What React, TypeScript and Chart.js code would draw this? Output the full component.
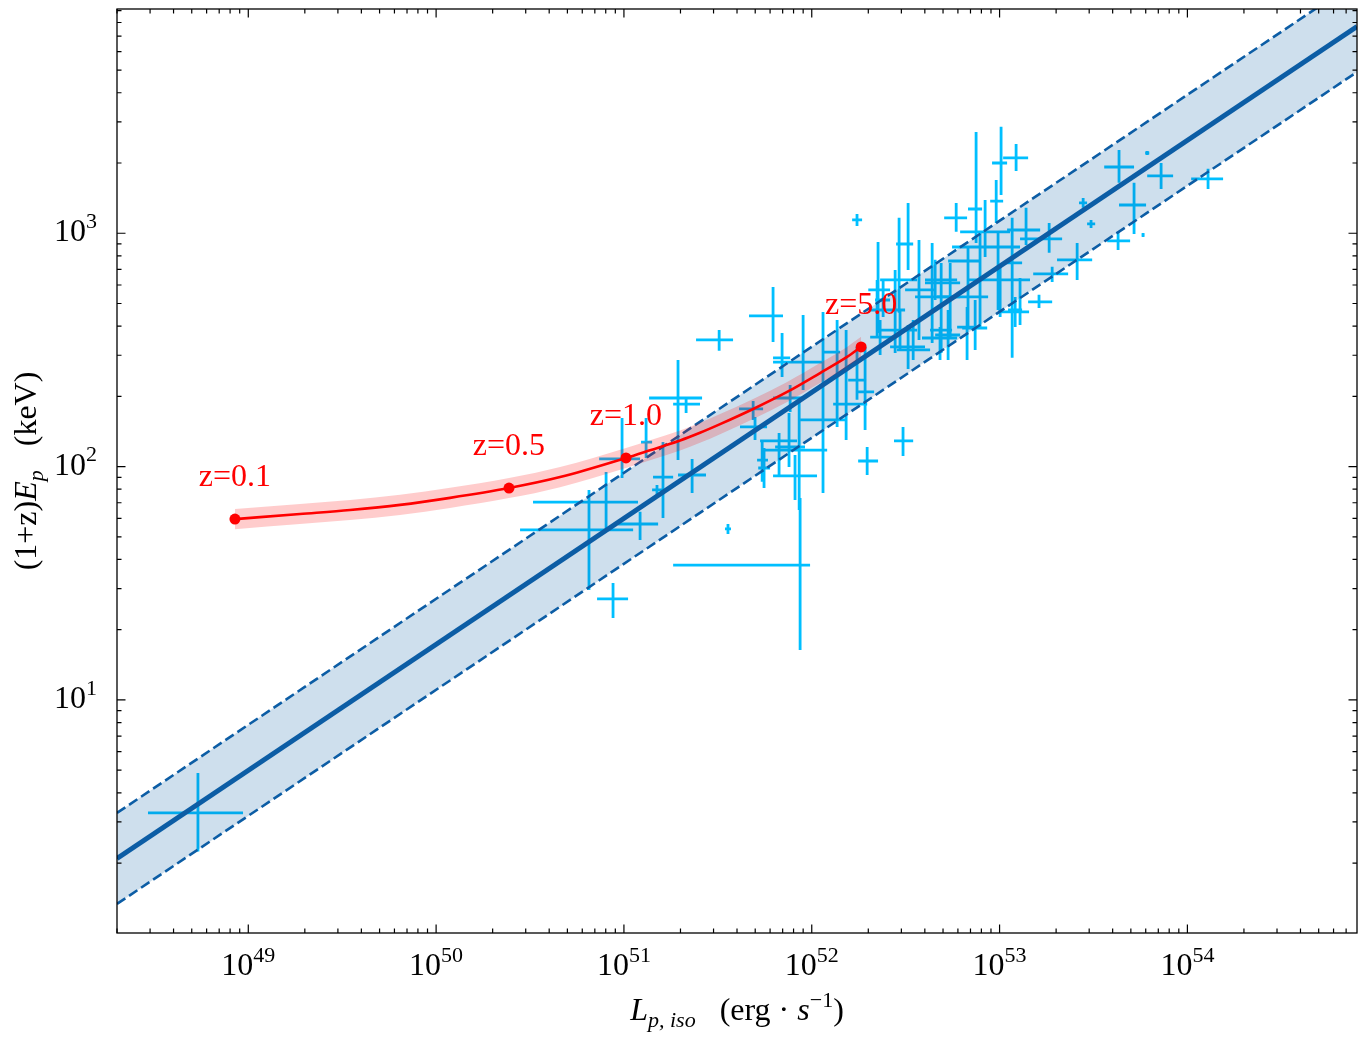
import React, { useEffect, useRef } from "react";
import { Chart, registerables } from "chart.js";

Chart.register(...registerables);

// ---------- data (log10 values) ----------
// x: log10 L_p,iso [erg s^-1]  (centre, lower edge, upper edge of error bar)
const logLp = [48.732, 50.905, 50.814, 51.086, 50.942, 51.208, 51.176, 51.363, 50.990, 51.118, 51.288, 51.331, 51.507, 51.794, 51.842, 51.688, 51.698, 51.554, 51.938, 51.826, 51.933, 51.879, 51.911, 51.736, 51.746, 52.060, 51.885, 51.954, 52.135, 52.183, 52.241, 52.284, 52.295, 52.486, 52.241, 52.348, 52.380, 52.513, 52.465, 52.571, 52.641, 52.737, 52.769, 52.875, 52.689, 52.832, 52.896, 52.923, 52.992, 53.003, 52.982, 53.008, 53.088, 53.067, 53.141, 53.264, 53.413, 53.280, 53.210, 53.109, 53.083, 53.631, 53.636, 53.716, 53.860, 54.110, 53.786, 53.445, 53.487, 53.764, 52.470, 52.513, 52.726, 52.870, 52.657, 52.353, 52.444, 52.364, 52.540, 52.683, 52.827];
const logLpLo = [48.466, 50.516, 50.447, 50.969, 50.857, 51.155, 51.150, 51.288, 50.868, 51.091, 51.134, 51.262, 51.384, 51.666, 51.794, 51.613, 51.618, 51.538, 51.262, 51.725, 51.741, 51.805, 51.794, 51.709, 51.715, 51.938, 51.794, 51.794, 52.060, 52.114, 52.194, 52.236, 52.247, 52.438, 52.215, 52.311, 52.337, 52.449, 52.364, 52.497, 52.550, 52.603, 52.705, 52.832, 52.630, 52.726, 52.667, 52.790, 52.747, 52.832, 52.950, 52.960, 53.019, 53.024, 53.040, 53.109, 53.306, 53.179, 53.152, 52.992, 53.045, 53.573, 53.557, 53.636, 53.786, 54.020, 53.775, 53.423, 53.466, 53.756, 52.364, 52.417, 52.657, 52.801, 52.603, 52.301, 52.390, 52.311, 52.454, 52.587, 52.774];
const logLpHi = [48.972, 51.075, 51.049, 51.182, 51.022, 51.262, 51.208, 51.437, 51.086, 51.150, 51.416, 51.405, 51.581, 51.847, 51.885, 51.741, 51.762, 51.570, 51.991, 51.922, 52.082, 51.964, 52.028, 51.767, 51.778, 52.178, 51.954, 52.060, 52.151, 52.295, 52.289, 52.332, 52.353, 52.540, 52.268, 52.385, 52.417, 52.540, 52.561, 52.657, 52.790, 52.790, 52.827, 52.907, 52.747, 52.896, 52.939, 53.056, 53.109, 53.162, 53.019, 53.040, 53.152, 53.120, 53.216, 53.333, 53.493, 53.365, 53.280, 53.157, 53.120, 53.695, 53.716, 53.780, 53.924, 54.190, 53.797, 53.466, 53.509, 53.772, 52.561, 52.603, 52.790, 52.934, 52.774, 52.417, 52.497, 52.444, 52.630, 52.774, 52.880];
// y: log10 (1+z)E_p [keV]
const logEp = [0.516, 1.848, 1.729, 1.754, 1.433, 1.955, 1.900, 1.964, 2.033, 2.105, 2.294, 2.268, 2.543, 2.646, 2.466, 2.247, 2.170, 1.733, 1.578, 2.110, 2.071, 2.084, 1.960, 2.028, 1.994, 2.200, 2.294, 2.448, 2.491, 2.268, 2.371, 2.320, 2.024, 2.110, 3.057, 2.671, 2.714, 2.954, 2.800, 2.757, 2.727, 2.787, 3.066, 3.104, 2.585, 2.881, 2.727, 3.006, 2.941, 2.800, 3.138, 3.301, 3.323, 2.873, 3.014, 2.976, 2.886, 2.826, 2.706, 2.663, 2.671, 2.967, 3.284, 3.121, 3.246, 3.233, 3.344, 3.130, 3.040, 2.993, 2.585, 2.513, 2.564, 2.594, 2.800, 2.757, 2.671, 2.555, 2.500, 2.551, 2.598];
const logEpLo = [0.351, 1.737, 1.471, 1.685, 1.351, 1.780, 1.878, 1.887, 1.951, 2.037, 2.028, 2.230, 2.496, 2.534, 2.384, 2.200, 2.114, 1.711, 1.214, 1.955, 1.814, 1.998, 1.857, 1.935, 1.908, 1.887, 2.234, 2.328, 2.170, 2.114, 2.286, 2.157, 1.964, 2.045, 3.031, 2.555, 2.641, 2.843, 2.659, 2.543, 2.530, 2.555, 3.006, 2.958, 2.487, 2.598, 2.598, 2.898, 2.671, 2.641, 3.044, 3.164, 3.267, 2.466, 2.950, 2.916, 2.800, 2.791, 2.680, 2.607, 2.598, 2.928, 3.216, 2.997, 3.190, 3.190, 3.335, 3.109, 3.023, 2.984, 2.500, 2.418, 2.457, 2.500, 2.714, 2.573, 2.487, 2.478, 2.457, 2.457, 2.457];
const logEpHi = [0.687, 1.977, 1.900, 1.806, 1.501, 2.105, 1.921, 2.033, 2.208, 2.208, 2.457, 2.298, 2.585, 2.770, 2.573, 2.281, 2.213, 1.754, 1.865, 2.144, 2.286, 2.230, 2.050, 2.114, 2.080, 2.663, 2.350, 2.650, 2.628, 2.585, 2.513, 2.513, 2.084, 2.170, 3.083, 2.800, 2.800, 3.130, 3.066, 2.971, 2.958, 2.873, 3.130, 3.434, 2.873, 2.941, 3.001, 3.143, 3.001, 2.856, 3.228, 3.456, 3.383, 3.066, 3.109, 3.044, 2.958, 2.856, 2.736, 2.808, 2.727, 3.006, 3.357, 3.216, 3.301, 3.276, 3.353, 3.151, 3.057, 3.001, 2.671, 2.607, 2.671, 2.714, 2.886, 2.963, 2.843, 2.628, 2.628, 2.598, 2.684];

// best-fit relation and its band (line end points, log10)
const fitLogL = [48.301, 54.903];
const fitLogE = [0.321, 3.886];
const fitUpperLogE = [0.516, 4.081];
const fitLowerLogE = [0.126, 3.691];

// red track with shaded band (log10)
const trackLogL = [48.929, 49.275, 49.542, 49.808, 50.074, 50.388, 50.660, 51.011, 51.139, 51.299, 51.405, 51.512, 51.688, 51.869, 52.044, 52.188, 52.263];
const trackLogE = [1.775, 1.797, 1.814, 1.836, 1.866, 1.908, 1.955, 2.037, 2.070, 2.112, 2.145, 2.182, 2.247, 2.320, 2.401, 2.470, 2.513];
const trackHiLogE = [1.818, 1.840, 1.857, 1.879, 1.909, 1.951, 1.998, 2.080, 2.113, 2.155, 2.188, 2.225, 2.290, 2.363, 2.444, 2.513, 2.556];
const trackLoLogE = [1.732, 1.754, 1.771, 1.793, 1.823, 1.865, 1.912, 1.994, 2.027, 2.069, 2.102, 2.139, 2.204, 2.277, 2.358, 2.427, 2.470];

// redshift markers
const zLabels = ["z=0.1", "z=0.5", "z=1.0", "z=5.0"];
const zLogL = [48.929, 50.388, 51.011, 52.263];
const zLogE = [1.775, 1.908, 2.037, 2.513];

// axes
const xTickExps = [49, 50, 51, 52, 53, 54];
const yTickExps = [1, 2, 3];
const xLimLog = [48.301, 54.903];
const yLimLog = [0.0013, 3.961];

// ---------- drawing helpers ----------
const FONT = "'Liberation Serif', 'Times New Roman', serif";
const F = 32;

type Seg = { t: string; s: number; it?: boolean; dy?: number };

function fontOf(seg: Seg) {
  return `${seg.it ? "italic " : ""}${seg.s}px ${FONT}`;
}

function drawRich(ctx: CanvasRenderingContext2D, segs: Seg[], x: number, y: number, align: "left" | "center" | "right") {
  let total = 0;
  const widths = segs.map((s) => {
    ctx.font = fontOf(s);
    const w = ctx.measureText(s.t).width;
    total += w;
    return w;
  });
  let cx = align === "left" ? x : align === "center" ? x - total / 2 : x - total;
  ctx.textAlign = "left";
  ctx.textBaseline = "alphabetic";
  segs.forEach((s, i) => {
    ctx.font = fontOf(s);
    ctx.fillText(s.t, cx, y + (s.dy || 0));
    cx += widths[i];
  });
}

function pow10Segs(e: number): Seg[] {
  return [
    { t: "10", s: F },
    { t: String(e), s: Math.round(F * 0.7), dy: -F * 0.42 },
  ];
}

const p = (v: number) => Math.pow(10, v);

const decor = {
  id: "decor",
  beforeDatasetsDraw(chart: any) {
    const { ctx, chartArea: a } = chart;
    const xs = chart.scales.x;
    const ys = chart.scales.y;
    ctx.save();
    ctx.beginPath();
    ctx.rect(a.left, a.top, a.right - a.left, a.bottom - a.top);
    ctx.clip();
    ctx.strokeStyle = "#00BFFF";
    ctx.lineWidth = 2.8;
    ctx.lineCap = "butt";
    for (let i = 0; i < logLp.length; i++) {
      const px = xs.getPixelForValue(p(logLp[i]));
      const py = ys.getPixelForValue(p(logEp[i]));
      ctx.beginPath();
      ctx.moveTo(xs.getPixelForValue(p(logLpLo[i])), py);
      ctx.lineTo(xs.getPixelForValue(p(logLpHi[i])), py);
      ctx.moveTo(px, ys.getPixelForValue(p(logEpHi[i])));
      ctx.lineTo(px, ys.getPixelForValue(p(logEpLo[i])));
      ctx.stroke();
    }
    ctx.restore();
  },
  afterDraw(chart: any) {
    const { ctx, chartArea: a } = chart;
    const xs = chart.scales.x;
    const ys = chart.scales.y;
    ctx.save();

    // redshift labels
    ctx.fillStyle = "#FF0000";
    zLabels.forEach((lab, i) => {
      const px = xs.getPixelForValue(p(zLogL[i]));
      const py = ys.getPixelForValue(p(zLogE[i]));
      drawRich(ctx, [{ t: lab, s: 32 }], px, py - 33, "center");
    });

    // frame
    ctx.strokeStyle = "#000";
    ctx.lineWidth = 1.3;
    ctx.strokeRect(a.left, a.top, a.right - a.left, a.bottom - a.top);

    // ticks (inward, all four sides)
    ctx.lineWidth = 1.2;
    const MAJ = 8.5;
    const MIN = 4.5;
    ctx.beginPath();
    for (let d = Math.floor(xLimLog[0]); d <= Math.ceil(xLimLog[1]); d++) {
      for (let m = 1; m <= 9; m++) {
        const lv = d + Math.log10(m);
        if (lv < xLimLog[0] || lv > xLimLog[1]) continue;
        const px = xs.getPixelForValue(p(lv));
        const len = m === 1 ? MAJ : MIN;
        ctx.moveTo(px, a.bottom);
        ctx.lineTo(px, a.bottom - len);
        ctx.moveTo(px, a.top);
        ctx.lineTo(px, a.top + len);
      }
    }
    for (let d = Math.floor(yLimLog[0]); d <= Math.ceil(yLimLog[1]); d++) {
      for (let m = 1; m <= 9; m++) {
        const lv = d + Math.log10(m);
        if (lv < yLimLog[0] || lv > yLimLog[1]) continue;
        const py = ys.getPixelForValue(p(lv));
        const len = m === 1 ? MAJ : MIN;
        ctx.moveTo(a.left, py);
        ctx.lineTo(a.left + len, py);
        ctx.moveTo(a.right, py);
        ctx.lineTo(a.right - len, py);
      }
    }
    ctx.stroke();

    // tick labels
    ctx.fillStyle = "#000";
    xTickExps.forEach((e) => {
      const px = xs.getPixelForValue(p(e));
      drawRich(ctx, pow10Segs(e), px, a.bottom + 42, "center");
    });
    yTickExps.forEach((e) => {
      const py = ys.getPixelForValue(p(e));
      drawRich(ctx, pow10Segs(e), a.left - 20, py + 8, "right");
    });

    // x title
    const sub = Math.round(F * 0.7);
    drawRich(
      ctx,
      [
        { t: "L", s: F, it: true },
        { t: "p, iso", s: sub, it: true, dy: F * 0.22 },
        { t: "   (erg · ", s: F },
        { t: "s", s: F, it: true },
        { t: "−1", s: sub, dy: -F * 0.42 },
        { t: ")", s: F },
      ],
      (a.left + a.right) / 2,
      a.bottom + 87,
      "center"
    );

    // y title (rotated)
    ctx.save();
    ctx.translate(a.left - 81, (a.top + a.bottom) / 2);
    ctx.rotate(-Math.PI / 2);
    drawRich(
      ctx,
      [
        { t: "(1+z)", s: F },
        { t: "E", s: F, it: true },
        { t: "p", s: sub, it: true, dy: F * 0.22 },
        { t: "   (keV)", s: F },
      ],
      0,
      0,
      "center"
    );
    ctx.restore();

    ctx.restore();
  },
};

export default function App() {
  const ref = useRef<HTMLCanvasElement | null>(null);

  useEffect(() => {
    if (!ref.current) return;
    const pts = (xl: number[], yl: number[]) => xl.map((v, i) => ({ x: p(v), y: p(yl[i]) }));
    const chart = new Chart(ref.current, {
      type: "scatter",
      data: {
        datasets: [
          {
            data: pts(fitLogL, fitUpperLogE),
            showLine: true,
            borderColor: "#0C5DA5",
            borderWidth: 2.6,
            borderDash: [10, 4.5],
            pointRadius: 0,
            fill: "+1",
            backgroundColor: "rgba(12,93,165,0.2)",
            order: 10,
          },
          {
            data: pts(fitLogL, fitLowerLogE),
            showLine: true,
            borderColor: "#0C5DA5",
            borderWidth: 2.6,
            borderDash: [10, 4.5],
            pointRadius: 0,
            fill: false,
            order: 9,
          },
          {
            data: pts(fitLogL, fitLogE),
            showLine: true,
            borderColor: "#0C5DA5",
            borderWidth: 5,
            pointRadius: 0,
            fill: false,
            order: 8,
          },
          {
            data: pts(trackLogL, trackHiLogE),
            showLine: true,
            borderWidth: 0,
            borderColor: "rgba(0,0,0,0)",
            pointRadius: 0,
            cubicInterpolationMode: "monotone",
            fill: "+1",
            backgroundColor: "rgba(255,0,0,0.2)",
            order: 5,
          },
          {
            data: pts(trackLogL, trackLoLogE),
            showLine: true,
            borderWidth: 0,
            borderColor: "rgba(0,0,0,0)",
            pointRadius: 0,
            cubicInterpolationMode: "monotone",
            fill: false,
            order: 4,
          },
          {
            data: pts(trackLogL, trackLogE),
            showLine: true,
            borderColor: "#FF0000",
            borderWidth: 2.6,
            pointRadius: 0,
            cubicInterpolationMode: "monotone",
            fill: false,
            order: 3,
          },
          {
            data: pts(zLogL, zLogE),
            showLine: false,
            pointRadius: 5.5,
            pointBackgroundColor: "#FF0000",
            pointBorderColor: "#FF0000",
            pointBorderWidth: 0,
            order: 1,
          },
        ] as any,
      },
      options: {
        animation: false,
        responsive: false,
        maintainAspectRatio: false,
        events: [],
        layout: { padding: { left: 117, top: 9, right: 10, bottom: 110 } },
        plugins: { legend: { display: false }, tooltip: { enabled: false } },
        scales: {
          x: { type: "logarithmic", display: false, bounds: "data", min: p(xLimLog[0]), max: p(xLimLog[1]) },
          y: { type: "logarithmic", display: false, bounds: "data", min: p(yLimLog[0]), max: p(yLimLog[1]) },
        },
      } as any,
      plugins: [decor],
    });
    return () => chart.destroy();
  }, []);

  return (
    <div style={{ position: "absolute", left: 0, top: 0, width: 1367, height: 1043, background: "#fff" }}>
      <canvas ref={ref} width={1367} height={1043} style={{ display: "block", width: 1367, height: 1043 }} />
    </div>
  );
}
